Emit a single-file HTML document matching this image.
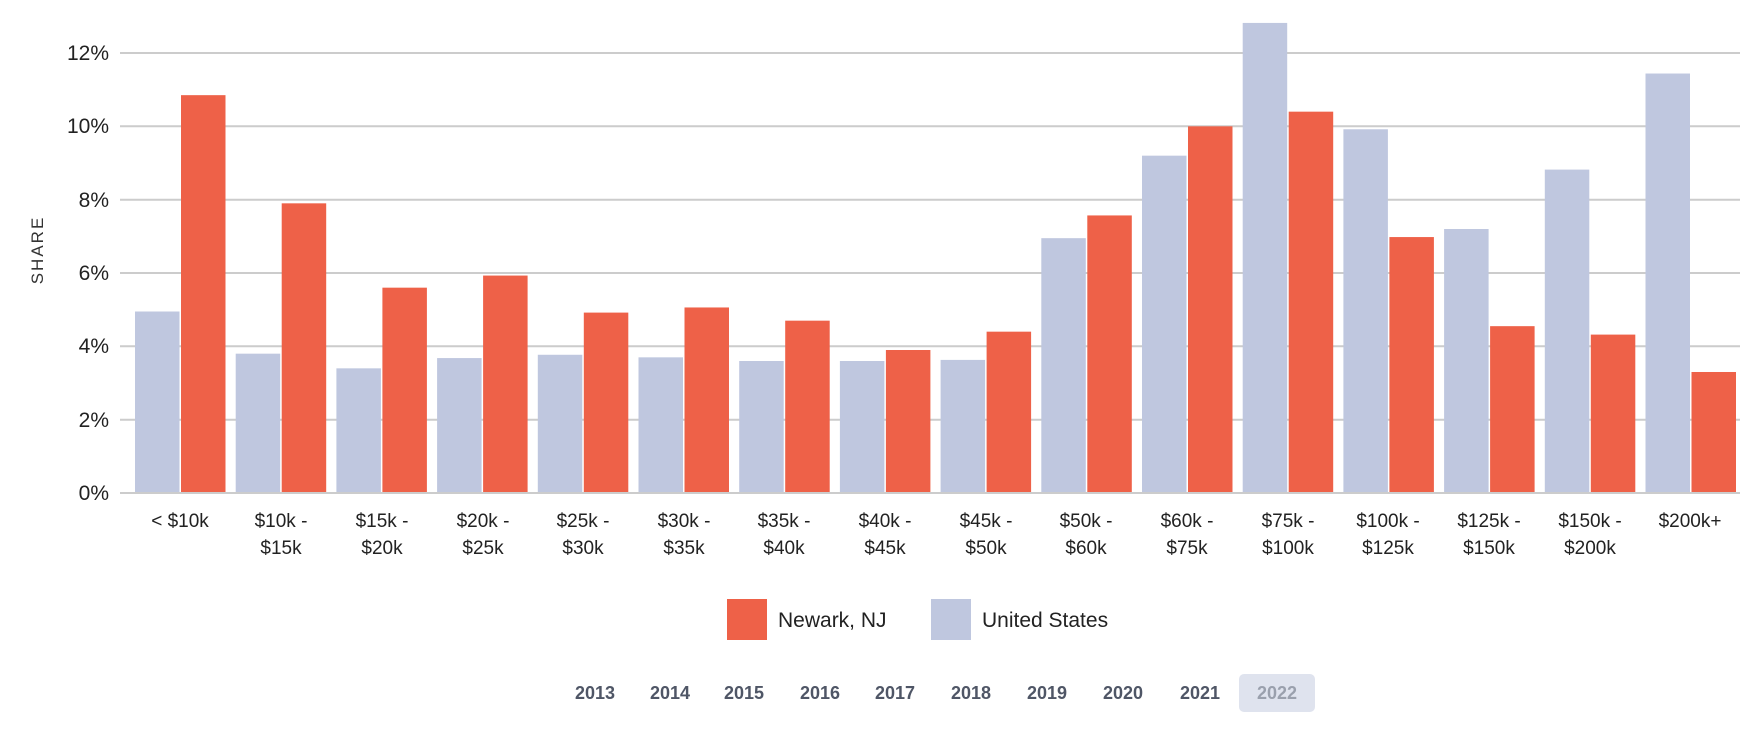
<!DOCTYPE html>
<html><head><meta charset="utf-8"><style>
html,body{margin:0;padding:0;background:#fff;width:1750px;height:730px;overflow:hidden}
svg text{font-family:"Liberation Sans",sans-serif}
</style></head><body>
<svg id="s" width="1750" height="730" xmlns="http://www.w3.org/2000/svg">
<g stroke="#cccccc" stroke-width="2">
<line x1="120" x2="1740" y1="53" y2="53"/>
<line x1="120" x2="1740" y1="126.3" y2="126.3"/>
<line x1="120" x2="1740" y1="199.7" y2="199.7"/>
<line x1="120" x2="1740" y1="273" y2="273"/>
<line x1="120" x2="1740" y1="346.3" y2="346.3"/>
<line x1="120" x2="1740" y1="419.7" y2="419.7"/>
</g>
<g id="bars"></g>
<line x1="120" x2="1740" y1="493" y2="493" stroke="#cccccc" stroke-width="2"/>
<g font-size="21" fill="#222" text-anchor="end">
<text x="109" y="60">12%</text>
<text x="109" y="133">10%</text>
<text x="109" y="207">8%</text>
<text x="109" y="280">6%</text>
<text x="109" y="353">4%</text>
<text x="109" y="427">2%</text>
<text x="109" y="500">0%</text>
</g>
<text transform="translate(43,250) rotate(-90)" font-size="17" fill="#333" text-anchor="middle" letter-spacing="2">SHARE</text>
<g font-size="19" fill="#222" text-anchor="middle">
<text x="180" y="527">&lt; $10k</text>
<text x="281" y="527">$10k -</text><text x="281" y="554">$15k</text>
<text x="382" y="527">$15k -</text><text x="382" y="554">$20k</text>
<text x="483" y="527">$20k -</text><text x="483" y="554">$25k</text>
<text x="583" y="527">$25k -</text><text x="583" y="554">$30k</text>
<text x="684" y="527">$30k -</text><text x="684" y="554">$35k</text>
<text x="784" y="527">$35k -</text><text x="784" y="554">$40k</text>
<text x="885" y="527">$40k -</text><text x="885" y="554">$45k</text>
<text x="986" y="527">$45k -</text><text x="986" y="554">$50k</text>
<text x="1086" y="527">$50k -</text><text x="1086" y="554">$60k</text>
<text x="1187" y="527">$60k -</text><text x="1187" y="554">$75k</text>
<text x="1288" y="527">$75k -</text><text x="1288" y="554">$100k</text>
<text x="1388" y="527">$100k -</text><text x="1388" y="554">$125k</text>
<text x="1489" y="527">$125k -</text><text x="1489" y="554">$150k</text>
<text x="1590" y="527">$150k -</text><text x="1590" y="554">$200k</text>
<text x="1690" y="527">$200k+</text>
</g>
<rect x="727" y="599" width="40" height="41" fill="#ee6148"/>
<text x="778" y="627" font-size="21" fill="#222">Newark, NJ</text>
<rect x="931" y="599" width="40" height="41" fill="#bfc7df"/>
<text x="982" y="627" font-size="21" fill="#222">United States</text>
<rect x="1239" y="674" width="76" height="38" rx="5" fill="#dfe3ee"/>
<g font-size="18" font-weight="bold" fill="#4f5666" text-anchor="middle">
<text x="595" y="699">2013</text><text x="670" y="699">2014</text><text x="744" y="699">2015</text>
<text x="820" y="699">2016</text><text x="895" y="699">2017</text><text x="971" y="699">2018</text>
<text x="1047" y="699">2019</text><text x="1123" y="699">2020</text><text x="1200" y="699">2021</text>
<text x="1277" y="699" fill="#9aa0ad">2022</text>
</g>
</svg>
<script>
var us=[4.95,3.8,3.4,3.68,3.77,3.7,3.6,3.6,3.63,6.95,9.2,12.82,9.92,7.2,8.82,11.44];
var nw=[10.85,7.9,5.6,5.93,4.92,5.06,4.7,3.9,4.4,7.57,10.0,10.4,6.98,4.55,4.32,3.3];
var g=document.getElementById('bars'),h='';
for(var i=0;i<16;i++){var x=135+i*100.7;
var hu=us[i]*36.667,hn=nw[i]*36.667;
h+='<rect x="'+x+'" y="'+(493-hu)+'" width="44.5" height="'+hu+'" fill="#bfc7df"/>';
h+='<rect x="'+(x+46)+'" y="'+(493-hn)+'" width="44.5" height="'+hn+'" fill="#ee6148"/>';}
g.innerHTML=h;
</script>
</body></html>
